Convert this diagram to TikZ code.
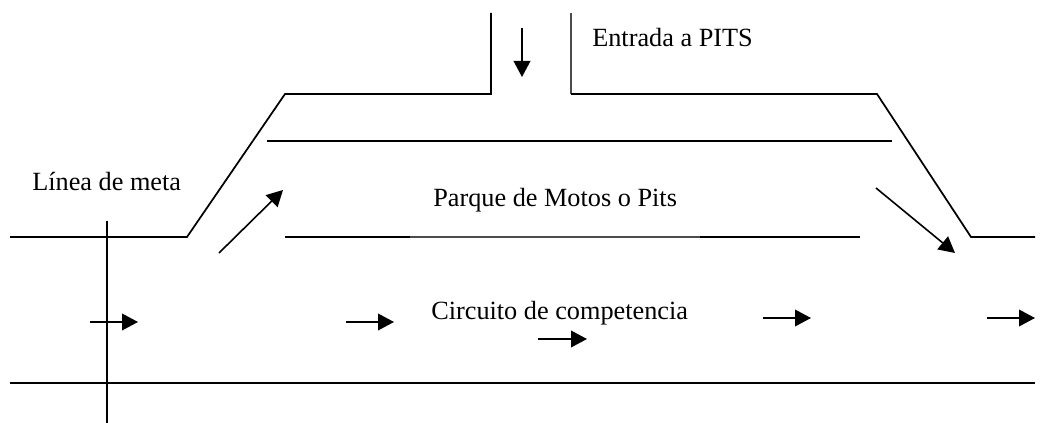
\documentclass[tikz,border=0pt]{standalone}
\usepackage{fontspec}
\setmainfont{Liberation Serif}
\usetikzlibrary{arrows.meta}
\begin{document}
\begin{tikzpicture}[x=0.75pt,y=-0.75pt,
  wall/.style={line width=1.3pt,line join=miter},
  thinwall/.style={line width=0.8pt,black!70},
  flow/.style={line width=1.2pt,-{Triangle[length=12pt,width=12.5pt]}},
  lbl/.style={anchor=base west,inner sep=0pt,font=\fontsize{19.7}{23}\selectfont}]
\useasboundingbox (0,0) rectangle (1040,423);
% outer track boundary with pit entrance
\draw[wall] (10,237) -- (187,237) -- (285,94) -- (491,94) -- (491,13);
\draw[thinwall] (571,13) -- (571,94);
\draw[wall] (571,94) -- (877,94) -- (971,237) -- (1035,237);
% inner lines
\draw[wall] (267,141) -- (892,141);
\draw[wall] (285,237) -- (410,237);
\draw[thinwall] (410,237) -- (700,237);
\draw[wall] (700,237) -- (860,237);
% bottom boundary
\draw[wall] (10,383) -- (1035,383);
% finish line
\draw[wall] (107,221) -- (107,423);
% arrows
\draw[flow] (522,28) -- (522,77);
\draw[flow] (219,253) -- (283,190);
\draw[flow] (876,188) -- (955,253);
\draw[flow] (90,322) -- (138,322);
\draw[flow] (346,322) -- (394,322);
\draw[flow] (538,339) -- (587,339);
\draw[flow] (763,318) -- (811,318);
\draw[flow] (987,318) -- (1035,318);
% labels
\node[lbl] (entrada) at (592,47) {Entrada a PITS};
\node[lbl] (meta) at (32,191) {Línea de meta};
\node[lbl] (parque) at (433,207) {Parque de Motos o Pits};
\node[lbl] (circuito) at (431,320) {Circuito de competencia};
\end{tikzpicture}
\end{document}
